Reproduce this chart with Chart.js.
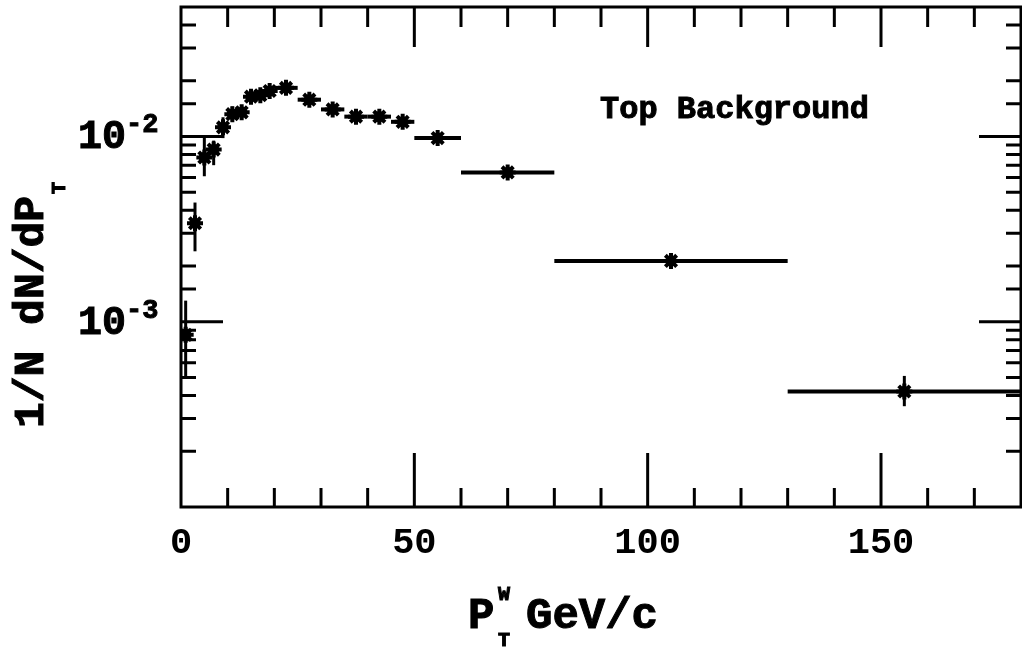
<!DOCTYPE html>
<html lang="en">
<head>
<meta charset="UTF-8" />
<title>Top Background</title>
<script src="https://cdn.jsdelivr.net/npm/chart.js"></script>
<style>
  html, body { margin: 0; padding: 0; background: #fff; }
  #wrap { width: 1022px; height: 649px; }
</style>
</head>
<body>
<div id="wrap"><canvas id="ptChart" width="1022" height="649"></canvas></div>
<script>
// bins in P_T^W (GeV/c) and the measured points
const binLo = [0, 2, 4, 6, 8, 10, 12, 14, 16, 18, 20, 25, 30, 35, 40, 45, 50, 60, 80, 130];
const binHi = [2, 4, 6, 8, 10, 12, 14, 16, 18, 20, 25, 30, 35, 40, 45, 50, 60, 80, 130, 180];
const ptX   = [1, 3, 5, 7, 9, 11, 13, 15, 17, 19, 22.5, 27.5, 32.5, 37.5, 42.5, 47.5, 55, 70, 105, 155];
const ptY   = [0.00085, 0.0034, 0.0077, 0.0085, 0.0112, 0.0132, 0.0135, 0.0164, 0.0167, 0.0176,
               0.0183, 0.0158, 0.0140, 0.0128, 0.0128, 0.0120, 0.0098, 0.0064, 0.00213, 0.00042];
const yLo   = [0.0005, 0.0024, 0.0061, 0.0070, 0.0098, 0.0122, 0.0125, 0.0155, 0.0158, 0.0168,
               0.0175, 0.0151, 0.0134, 0.0122, 0.0122, 0.0114, 0.0093, 0.0061, 0.0020, 0.00035];
const yHi   = [0.0013, 0.0044, 0.0100, 0.0095, 0.0127, 0.0145, 0.0146, 0.0174, 0.0177, 0.0185,
               0.0192, 0.0166, 0.0147, 0.0135, 0.0135, 0.0127, 0.0104, 0.0068, 0.0023, 0.00051];
const xTickLabels = [0, 50, 100, 150];
const yTickLabels = [{ v: 1e-2, exp: "-2" }, { v: 1e-3, exp: "-3" }];

const FONT = '"Liberation Mono", "Courier New", monospace';
const ink = "#000";

const points = ptX.map((x, i) => ({ x: x, y: ptY[i] }));

// bold text with a thin outline so it looks heavier, like the plotter font
function heavyText(ctx, txt, x, y) {
  ctx.fillText(txt, x, y);
  ctx.lineWidth = 1;
  ctx.strokeText(txt, x, y);
}

// error bars under the markers
const errorBars = {
  id: "errorBars",
  beforeDatasetsDraw(chart) {
    const { ctx, scales: { x, y } } = chart;
    ctx.save();
    ctx.strokeStyle = ink;
    ctx.lineCap = "butt";
    ptX.forEach((px, i) => {
      const cx = x.getPixelForValue(px);
      const cy = y.getPixelForValue(ptY[i]);
      ctx.lineWidth = 4;
      ctx.beginPath();
      ctx.moveTo(x.getPixelForValue(binLo[i]), cy);
      ctx.lineTo(x.getPixelForValue(binHi[i]), cy);
      ctx.stroke();
      ctx.lineWidth = 3;
      ctx.beginPath();
      ctx.moveTo(cx, y.getPixelForValue(yLo[i]));
      ctx.lineTo(cx, y.getPixelForValue(yHi[i]));
      ctx.stroke();
    });
    ctx.restore();
  }
};

// frame, inward ticks on all four sides, y labels and axis titles
const frame = {
  id: "frame",
  afterDraw(chart) {
    const { ctx, chartArea: a, scales: { x, y } } = chart;
    ctx.save();
    ctx.strokeStyle = ink;
    ctx.fillStyle = ink;
    ctx.lineWidth = 3;
    ctx.strokeRect(a.left, a.top, a.right - a.left, a.bottom - a.top);

    x.ticks.forEach(t => {
      if (t.value <= x.min || t.value >= x.max) return;
      const px = x.getPixelForValue(t.value);
      const major = t.value % 50 === 0;
      ctx.beginPath();
      ctx.moveTo(px, a.bottom);
      ctx.lineTo(px, a.bottom - (major ? 54 : 19));
      ctx.moveTo(px, a.top);
      ctx.lineTo(px, a.top + (major ? 40 : 20));
      ctx.stroke();
    });

    y.ticks.forEach(t => {
      if (t.value <= y.min || t.value >= y.max) return;
      const py = y.getPixelForValue(t.value);
      const lg = Math.log10(t.value);
      const major = Math.abs(lg - Math.round(lg)) < 1e-6;
      const len = major ? 42 : 15;
      ctx.beginPath();
      ctx.moveTo(a.left, py);
      ctx.lineTo(a.left + len, py);
      ctx.moveTo(a.right, py);
      ctx.lineTo(a.right - len, py);
      ctx.stroke();
    });

    // y tick labels 10^-2, 10^-3
    ctx.textBaseline = "alphabetic";
    yTickLabels.forEach(l => {
      const py = y.getPixelForValue(l.v);
      ctx.font = "bold 27px " + FONT;
      ctx.textAlign = "left";
      heavyText(ctx, l.exp, 126, py - 4);
      ctx.font = "bold 40px " + FONT;
      ctx.textAlign = "right";
      heavyText(ctx, "10", 126, py + 12);
    });

    // y axis title
    ctx.save();
    ctx.translate(43, 300);
    ctx.rotate(-Math.PI / 2);
    ctx.font = "bold 43px " + FONT;
    ctx.textAlign = "center";
    const yMain = "1/N dN/dP";
    const yw = ctx.measureText(yMain).width;
    heavyText(ctx, yMain, -12, 0);
    ctx.font = "bold 20px " + FONT;
    ctx.textAlign = "left";
    heavyText(ctx, "T", -12 + yw / 2 + 2, 22);
    ctx.restore();

    // x axis title
    ctx.font = "bold 44px " + FONT;
    ctx.textAlign = "left";
    heavyText(ctx, "P", 468, 628);
    ctx.font = "bold 20px " + FONT;
    heavyText(ctx, "W", 498, 600);
    heavyText(ctx, "T", 498, 646);
    ctx.font = "bold 44px " + FONT;
    heavyText(ctx, "GeV/c", 526, 628);

    // label
    ctx.font = "bold 32px " + FONT;
    heavyText(ctx, "Top Background", 600, 118);
    ctx.restore();
  }
};

const ctx = document.getElementById("ptChart").getContext("2d");
const chart = new Chart(ctx, {
  type: "scatter",
  data: {
    datasets: [{
      label: "Top Background",
      data: points,
      pointStyle: "star",
      radius: 8,
      borderWidth: 4,
      borderColor: ink,
      backgroundColor: ink
    }, {
      label: "core",
      data: points,
      pointStyle: "rectRot",
      radius: 7,
      borderWidth: 0,
      backgroundColor: ink
    }]
  },
  options: {
    responsive: false,
    animation: false,
    layout: { autoPadding: false, padding: { left: 0, top: 7, right: 1, bottom: 0 } },
    plugins: { legend: { display: false }, tooltip: { enabled: false } },
    scales: {
      x: {
        type: "linear",
        min: 0,
        max: 180,
        grid: { display: false, drawTicks: false },
        border: { display: false },
        ticks: {
          stepSize: 10,
          padding: 14,
          color: ink,
          maxRotation: 0,
          autoSkip: false,
          font: { family: FONT, size: 37, weight: "bold" },
          callback: v => xTickLabels.includes(v) ? String(v) : ""
        },
        afterFit: s => { s.height = 142; s.paddingLeft = 0; s.paddingRight = 0; }
      },
      y: {
        type: "logarithmic",
        min: 1e-4,
        max: 0.05,
        grid: { display: false, drawTicks: false },
        border: { display: false },
        ticks: { display: false },
        afterFit: s => { s.width = 181; s.paddingTop = 0; s.paddingBottom = 0; }
      }
    }
  },
  plugins: [errorBars, frame]
});
</script>
</body>
</html>
